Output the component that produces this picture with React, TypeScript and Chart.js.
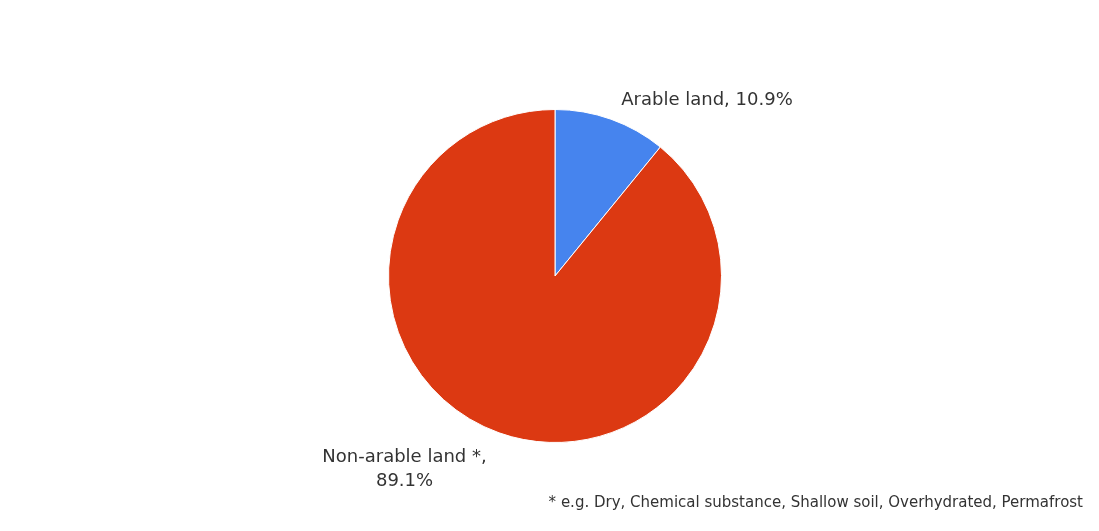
import React, { useEffect, useRef } from "react";
import { Chart, registerables } from "chart.js";

Chart.register(...registerables);

const categories = ["Arable land", "Non-arable land *"];
const values = [10.9, 89.1];
const colors = ["#4684EE", "#DC3912"];
const footnote = "* e.g. Dry, Chemical substance, Shallow soil, Overhydrated, Permafrost";

const FONT = "'DejaVu Sans', sans-serif";

const labelPlugin = {
  id: "sliceLabels",
  afterDraw(chart: any) {
    const ctx = chart.ctx;
    const meta = chart.getDatasetMeta(0);
    ctx.save();
    ctx.fillStyle = "#333333";
    ctx.font = `18px ${FONT}`;
    ctx.textBaseline = "middle";
    meta.data.forEach((arc: any, i: number) => {
      const { x, y, startAngle, endAngle, outerRadius } = arc.getProps(
        ["x", "y", "startAngle", "endAngle", "outerRadius"],
        true
      );
      const mid = (startAngle + endAngle) / 2;
      const r = outerRadius + 19;
      const ax = x + Math.cos(mid) * r;
      const ay = y + Math.sin(mid) * r;
      const pct = values[i].toFixed(1) + "%";
      const right = Math.cos(mid) >= 0;
      if (right) {
        ctx.textAlign = "left";
        ctx.fillText(`${categories[i]}, ${pct}`, ax + 4, ay - 1);
      } else {
        const lines = [`${categories[i]},`, pct];
        const w = Math.max(...lines.map((l) => ctx.measureText(l).width));
        const cx = ax - 6 - w / 2;
        ctx.textAlign = "center";
        lines.forEach((l, k) => ctx.fillText(l, cx, ay + 7 + k * 24));
      }
    });
    ctx.font = `15px ${FONT}`;
    ctx.textAlign = "right";
    ctx.fillText(footnote, chart.width - 16, 503);
    ctx.restore();
  },
};

export default function App() {
  const ref = useRef<HTMLCanvasElement>(null);
  useEffect(() => {
    document.body.style.margin = "0";
    const chart = new Chart(ref.current!, {
      type: "pie",
      data: {
        labels: categories,
        datasets: [
          {
            data: values,
            backgroundColor: colors,
            borderColor: "#ffffff",
            borderWidth: 1,
          },
        ],
      },
      options: {
        animation: false,
        responsive: false,
        layout: { padding: { top: 109, bottom: 88, left: 11, right: 0 } },
        plugins: {
          legend: { display: false },
          tooltip: { enabled: false },
        },
      },
      plugins: [labelPlugin],
    });
    return () => chart.destroy();
  }, []);
  return (
    <div style={{ position: "absolute", left: 0, top: 0, width: 1099, height: 531, background: "#fff" }}>
      <canvas ref={ref} width={1099} height={531} style={{ display: "block" }} />
    </div>
  );
}
